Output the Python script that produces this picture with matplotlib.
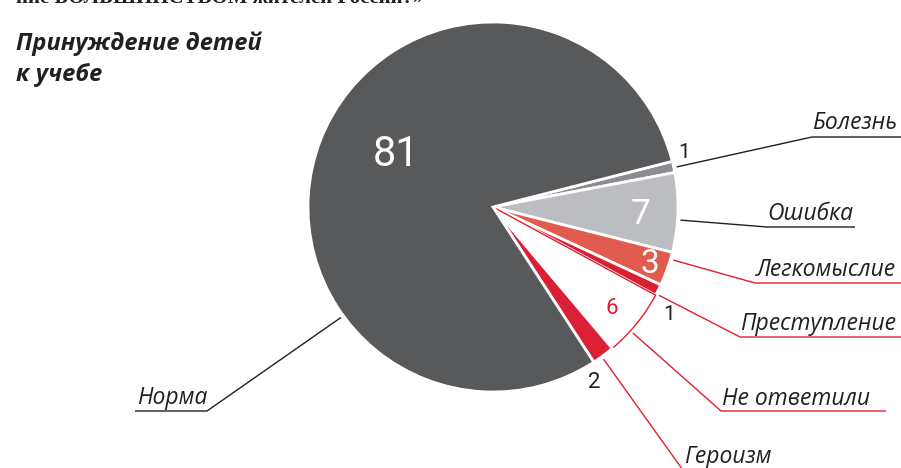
import matplotlib.pyplot as plt
import numpy as np

# Data (percent)
labels = ["Болезнь", "Ошибка", "Легкомыслие", "Преступление", "Не ответили", "Героизм", "Норма"]
values = [1, 7, 3, 1, 6, 2, 81]
colors = ["#8c8d90", "#bcbdc0", "#e25b4f", "#d91f36", "#ffffff", "#da1f37", "#58595b"]

title = "Принуждение детей\nк учебе"
top_text = "ние БОЛЬШИНСТВОМ жителей России?»"

W, H = 901, 468
DARK = "#231f20"
RED = "#e0202f"
CX, CY, R = 493, 207, 185


def p(x, y):
    # pixel coords measured from top-left -> data coords
    return x, H - y


fig = plt.figure(figsize=(W / 100, H / 100), dpi=100)
ax = fig.add_axes([0, 0, 1, 1])

wedges, _ = ax.pie(values, colors=colors, startangle=14.3, counterclock=False,
                   center=p(CX, CY), radius=R,
                   wedgeprops=dict(edgecolor="white", linewidth=2))
# "no answer" slice is drawn as an outline only
wedges[4].set_edgecolor(RED)
wedges[4].set_linewidth(1.0)

ax.set_xlim(0, W)
ax.set_ylim(0, H)
ax.set_aspect("equal")
ax.axis("off")

# leader lines: start angle on the rim, elbow point, end of underline, colour
leaders = {
    "Болезнь": (12.3, (812, 137), (901, 137), DARK),
    "Ошибка": (-4, (767, 227), (855, 227), DARK),
    "Легкомыслие": (-16.4, (755, 283), (901, 283), RED),
    "Преступление": (-28, (740, 337), (901, 337), RED),
    "Не ответили": (-42, (721, 411), (886, 411), RED),
    "Героизм": (-54, (690, 480), (690, 480), RED),
    "Норма": (-144, (207, 411), (135, 411), DARK),
}
label_pos = {
    "Болезнь": (812, 129),
    "Ошибка": (767, 220),
    "Легкомыслие": (756, 276),
    "Преступление": (740, 330),
    "Не ответили": (722, 405),
    "Героизм": (684, 463),
    "Норма": (137, 404),
}

for name, (ang, elbow, end, col) in leaders.items():
    a = np.radians(ang)
    x0 = CX + (R + 3) * np.cos(a)
    y0 = CY - (R + 3) * np.sin(a)
    xs = [x0, elbow[0], end[0]]
    ys = [H - y0, H - elbow[1], H - end[1]]
    ax.plot(xs, ys, color=col, lw=1.0, solid_capstyle="butt", clip_on=False)
    tx, ty = label_pos[name]
    ax.text(*p(tx, ty), name, fontsize=16.5, style="italic", color=DARK,
            family=["Open Sans", "DejaVu Sans"], ha="left", va="baseline")

# value labels: position, colour, size
num_style = {
    "Норма": ((396, 155), "white", 30),
    "Ошибка": ((640, 214), "white", 25),
    "Легкомыслие": ((650, 264), "white", 24),
    "Не ответили": ((612, 309), "#d91f36", 16),
    "Болезнь": ((684, 152), DARK, 15),
    "Преступление": ((669, 315), DARK, 15),
    "Героизм": ((594, 383), DARK, 16),
}
for name, v in zip(labels, values):
    (x, y), col, fs = num_style[name]
    ax.text(*p(x, y), str(v), color=col, fontsize=fs, ha="center", va="center",
            family=["Liberation Sans Narrow", "Roboto", "DejaVu Sans"])

ax.text(*p(16, 81), title, fontsize=17, fontweight="bold", style="italic",
        color=DARK, ha="left", va="baseline", linespacing=1.36,
        family=["Open Sans", "DejaVu Sans"])

ax.text(*p(16, 3), top_text, fontsize=15, fontweight="bold", color=DARK,
        ha="left", va="baseline", family=["Liberation Serif", "DejaVu Serif"])

fig.savefig("out.png", dpi=100)
